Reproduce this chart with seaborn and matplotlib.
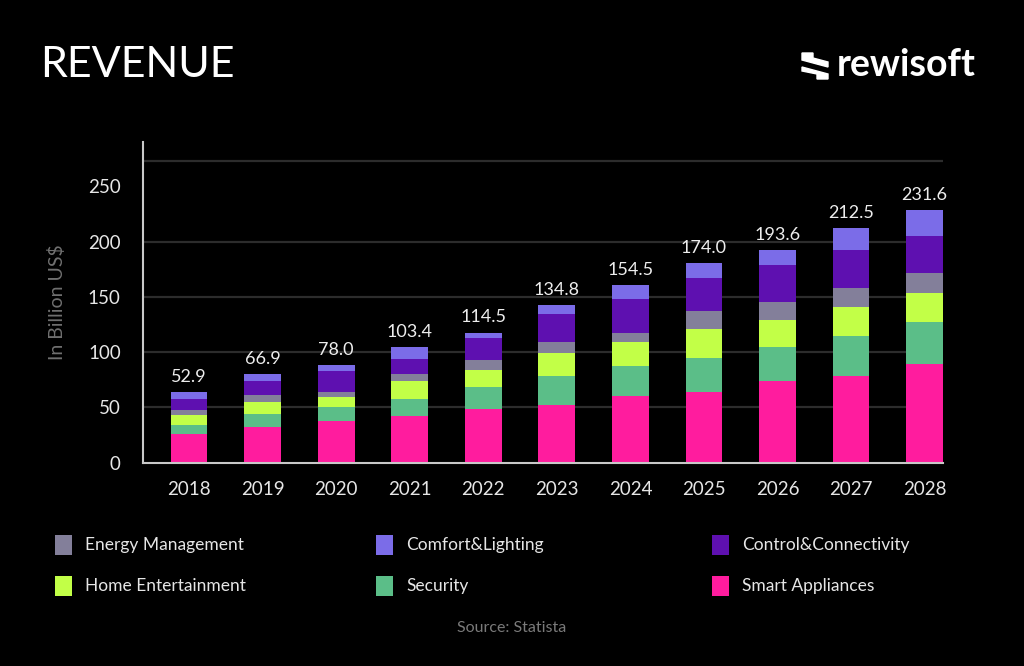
import matplotlib
matplotlib.use("Agg")
import matplotlib.pyplot as plt
import seaborn as sns
import pandas as pd
import numpy as np
from matplotlib.patches import Patch, Polygon

years = ["2018", "2019", "2020", "2021", "2022", "2023", "2024", "2025", "2026", "2027", "2028"]
total_labels = ["52.9", "66.9", "78.0", "103.4", "114.5", "134.8", "154.5", "174.0", "193.6", "212.5", "231.6"]

smart_appliances = [25.8, 32.4, 37.3, 42.1, 48.7, 51.8, 60.5, 64.1, 73.6, 78.3, 88.9]
security = [8.5, 11.5, 12.7, 15.7, 19.4, 26.5, 26.6, 30.6, 30.7, 36.0, 38.4]
home_entertainment = [9.0, 10.9, 9.6, 16.3, 15.7, 20.6, 22.0, 26.5, 24.8, 26.3, 26.5]
energy_management = [4.3, 6.1, 4.3, 6.1, 9.0, 10.2, 8.5, 16.3, 16.3, 17.7, 18.1]
control_connectivity = [10.2, 13.2, 19.3, 13.8, 20.0, 25.4, 30.8, 29.3, 33.2, 34.2, 33.5]
comfort_lighting = [6.1, 6.1, 5.4, 10.3, 4.8, 7.9, 12.1, 13.6, 13.9, 19.9, 23.3]

series_names = ["Smart Appliances", "Security", "Home Entertainment",
                "Energy Management", "Control&Connectivity", "Comfort&Lighting"]
series_values = [smart_appliances, security, home_entertainment,
                 energy_management, control_connectivity, comfort_lighting]
colors = {
    "Smart Appliances": "#FF1C9E",
    "Security": "#5BBE88",
    "Home Entertainment": "#C2FF47",
    "Energy Management": "#837F9A",
    "Control&Connectivity": "#5E10B0",
    "Comfort&Lighting": "#7B6CE8",
}

df = pd.DataFrame({"year": years})
cum = np.zeros(len(years))
for name, vals in zip(series_names, series_values):
    cum = cum + np.array(vals)
    df[name] = cum.copy()

BG = "#000000"
fig = plt.figure(figsize=(10.24, 6.66), dpi=100, facecolor=BG)
ax = fig.add_axes([143 / 1024, 1 - 462.5 / 666, 800 / 1024, (462.5 - 142) / 666])
ax.set_facecolor(BG)

# grid lines (behind bars)
for g in [50, 100, 150, 200, 273.5]:
    ax.axhline(g, color="#2c2c2c", lw=1.6, zorder=0)

# stacked bars drawn top-down with cumulative heights
for name in reversed(series_names):
    sns.barplot(data=df, x="year", y=name, color=colors[name], width=0.5,
                saturation=1, ax=ax, zorder=2, linewidth=0)

tops = df[series_names[-1]].values
for i, (t, lab) in enumerate(zip(tops, total_labels)):
    ax.text(i, t + 6.5, lab, ha="center", va="bottom", color="#EDEDED",
            fontsize=13, family="Lato")

ax.set_xlim(-0.626, 10.25)
ax.set_ylim(0, 290.3)
ax.set_yticks([0, 50, 100, 150, 200, 250])
ax.set_xlabel("")
ax.set_ylabel("In Billion US$", color="#707070", fontsize=14, family="Lato", labelpad=16)
ax.tick_params(axis="both", length=0, colors="#E6E6E6", labelsize=13.5)
ax.tick_params(axis="y", pad=16)
ax.tick_params(axis="x", pad=13)
for lab in ax.get_xticklabels() + ax.get_yticklabels():
    lab.set_family("Lato")
for s in ["top", "right"]:
    ax.spines[s].set_visible(False)
for s in ["left", "bottom"]:
    ax.spines[s].set_color("#C8C8C8")
    ax.spines[s].set_linewidth(1.5)

# Title and brand
fig.text(40 / 1024, 1 - 65 / 666, "REVENUE", color="white", fontsize=31,
         family="Lato", fontweight="normal", va="center", ha="left")
fig.text(837 / 1024, 1 - 65 / 666, "rewisoft", color="white", fontsize=27,
         family="Lato", fontweight="bold", va="center", ha="left")
W, H = 1024, 666
def P(pts):
    return [(x / W, 1 - y / H) for x, y in pts]
fig.patches.append(Polygon(P([(802, 53), (813, 53), (813, 58), (828, 62), (828, 67), (802, 60)]),
                           closed=True, transform=fig.transFigure, color="white"))
fig.patches.append(Polygon(P([(802, 67), (828, 74), (828, 79), (817, 79), (817, 74), (802, 71)]),
                           closed=True, transform=fig.transFigure, color="white"))

# Legend in three columns
legend_cols = [
    (["Energy Management", "Home Entertainment"], 39),
    (["Comfort&Lighting", "Security"], 360),
    (["Control&Connectivity", "Smart Appliances"], 696),
]
for names, xpx in legend_cols:
    handles = [Patch(facecolor=colors[n], edgecolor="none", label=n) for n in names]
    fig.legend(handles=handles, loc="upper left",
               bbox_to_anchor=(xpx / 1024, 1 - 519 / 666),
               frameon=False, labelcolor="#E6E6E6",
               handlelength=1.0, handleheight=1.4, handletextpad=0.75,
               labelspacing=1.2, prop={"family": "Lato", "size": 12.5})

fig.text(512 / 1024, 1 - 628 / 666, "Source: Statista", color="#7A7A7A",
         fontsize=11.5, family="Lato", ha="center", va="center")

fig.savefig("out.png", dpi=100, facecolor=BG)
